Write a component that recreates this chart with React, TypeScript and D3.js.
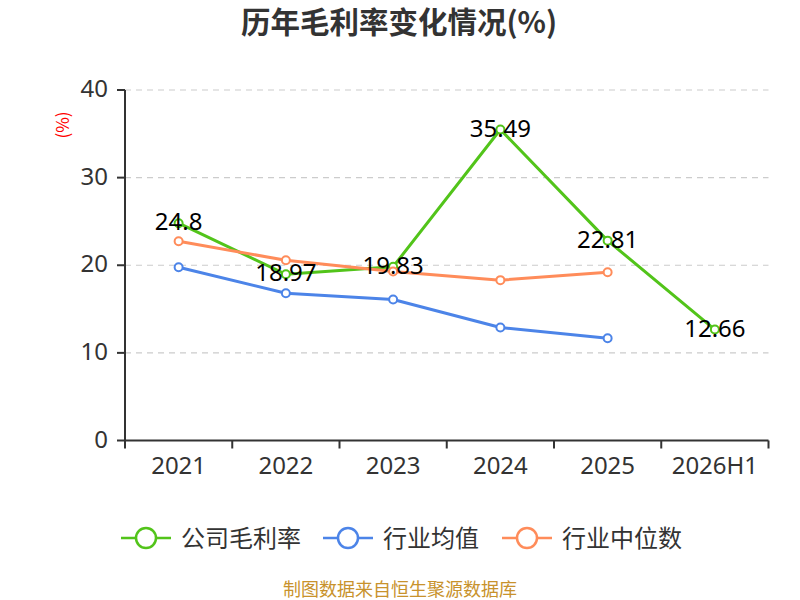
import React from "react";
import * as d3 from "d3";

const categories = ["2021", "2022", "2023", "2024", "2025", "2026H1"];
const companyMargin = [24.8, 18.97, 19.83, 35.49, 22.81, 12.66];
const industryAvg = [19.77, 16.8, 16.1, 12.9, 11.66];
const industryMedian = [22.74, 20.57, 19.3, 18.3, 19.2];
const yTicks = [0, 10, 20, 30, 40];

const seriesDefs = [
  { name: "公司毛利率", color: "#52c41a", values: companyMargin, labels: true },
  { name: "行业均值", color: "#4c84e8", values: industryAvg, labels: false },
  { name: "行业中位数", color: "#ff8c5a", values: industryMedian, labels: false },
];

const W = 800;
const H = 600;
const left = 125;
const right = 768.5;
const top = 90;
const bottom = 440.5;
const FONT = "'Noto Sans CJK SC', 'Noto Sans', sans-serif";
const NUMFONT = "'Noto Sans', 'Noto Sans CJK SC', sans-serif";

export default function App() {
  const x = d3.scaleBand<string>().domain(categories).range([left, right]);
  const y = d3.scaleLinear().domain([0, 40]).range([bottom, top]);
  const cx = (i: number) => (x(categories[i]) as number) + x.bandwidth() / 2;
  const line = d3
    .line<number>()
    .x((_, i) => cx(i))
    .y((d) => y(d));

  const order = [0, 1, 2];
  const legendX = [121, 323, 502];

  return (
    <div style={{ position: "absolute", left: 0, top: 0 }}>
      <svg width={W} height={H} style={{ display: "block", fontFamily: FONT }}>
        <rect width={W} height={H} fill="#fff" />
        <text x={399} y={33} textAnchor="middle" fontSize={29.5} fontWeight="bold" fill="#333">
          历年毛利率变化情况(%)
        </text>
        <text
          transform={`translate(69,125) rotate(-90)`}
          textAnchor="middle"
          fontSize={17}
          fill="#ff0000"
        >
          (%)
        </text>
        {/* grid */}
        {yTicks
          .filter((t) => t > 0)
          .map((t) => (
            <line
              key={t}
              x1={left}
              x2={right}
              y1={y(t)}
              y2={y(t)}
              stroke="#cccccc"
              strokeWidth={1.2}
              strokeDasharray="6,5"
            />
          ))}
        {/* y axis */}
        <line x1={left} x2={left} y1={top} y2={bottom} stroke="#333" strokeWidth={2} />
        {yTicks.map((t) => (
          <g key={t}>
            <line x1={left - 8} x2={left} y1={y(t)} y2={y(t)} stroke="#333" strokeWidth={2} />
            <text
              x={left - 17}
              y={y(t) + 7}
              textAnchor="end"
              fontSize={24}
              fill="#333"
              fontFamily={NUMFONT}
            >
              {t}
            </text>
          </g>
        ))}
        {/* x axis */}
        <line x1={left} x2={right} y1={bottom} y2={bottom} stroke="#333" strokeWidth={2} />
        {categories.map((c) => (
          <line
            key={"t" + c}
            x1={x(c) as number}
            x2={x(c) as number}
            y1={bottom}
            y2={bottom + 8}
            stroke="#333"
            strokeWidth={2}
          />
        ))}
        <line x1={right} x2={right} y1={bottom} y2={bottom + 8} stroke="#333" strokeWidth={2} />
        {categories.map((c, i) => (
          <text
            key={c}
            x={cx(i)}
            y={474}
            textAnchor="middle"
            fontSize={24}
            fill="#333"
            fontFamily={NUMFONT}
          >
            {c}
          </text>
        ))}
        {/* series */}
        {order.map((k) => {
          const s = seriesDefs[k];
          return (
            <g key={s.name}>
              <path
                d={line(s.values) || ""}
                fill="none"
                stroke={s.color}
                strokeWidth={3}
                strokeLinejoin="round"
              />
              {s.values.map((v, i) => (
                <circle key={i} cx={cx(i)} cy={y(v)} r={4} fill="#fff" stroke={s.color} strokeWidth={2} />
              ))}
            </g>
          );
        })}
        {seriesDefs
          .filter((s) => s.labels)
          .map((s) =>
            s.values.map((v, i) => (
              <text
                key={s.name + i}
                x={cx(i)}
                y={y(v) + 7}
                textAnchor="middle"
                fontSize={24}
                fill="#000"
                fontFamily={NUMFONT}
              >
                {String(v)}
              </text>
            ))
          )}
        {/* legend */}
        {seriesDefs.map((s, k) => (
          <g key={"lg" + s.name}>
            <line x1={legendX[k]} x2={legendX[k] + 50} y1={538} y2={538} stroke={s.color} strokeWidth={2.5} />
            <circle cx={legendX[k] + 25} cy={538} r={10} fill="#fff" stroke={s.color} strokeWidth={2.5} />
            <text x={legendX[k] + 60} y={546.5} fontSize={24} fill="#333">
              {s.name}
            </text>
          </g>
        ))}
        <text x={400} y={595.5} textAnchor="middle" fontSize={18} fill="#c8922c">
          制图数据来自恒生聚源数据库
        </text>
      </svg>
    </div>
  );
}
